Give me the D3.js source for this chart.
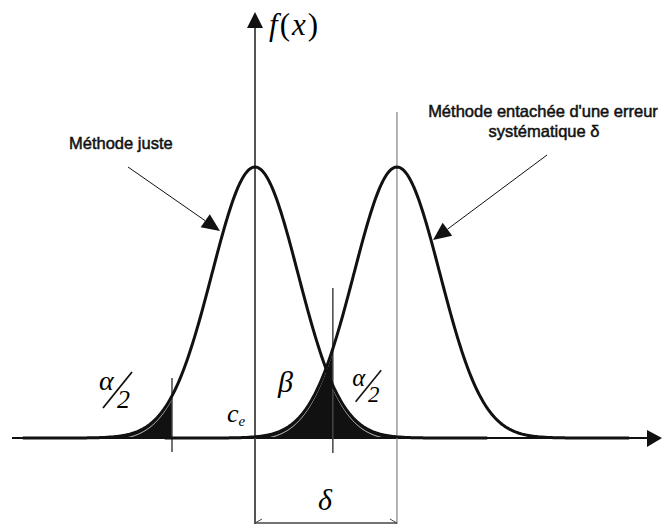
<!DOCTYPE html>
<html>
<head>
<meta charset="utf-8">
<script src="https://cdn.jsdelivr.net/npm/d3@7/dist/d3.min.js"></script>
<style>
  html, body { margin: 0; padding: 0; background: #fff; }
  svg { display: block; }
  .sans { font-family: "Liberation Sans", Arial, sans-serif; }
  .serif { font-family: "Liberation Serif", "Times New Roman", serif; font-style: italic; }
</style>
</head>
<body>
<svg id="chart" width="662" height="526"></svg>
<script>
// Two normal distributions (in units of sigma): the correct method and the
// method biased by a systematic error delta.
const means = [0, 3.3];
const sigma = 1;
const lowerCritical = -1.93;   // left alpha/2 limit of the correct method
const upperCritical = 1.81;    // c_e, right alpha/2 limit
const methodLabels = ["Méthode juste", "Méthode entachée d'une erreur", "systématique δ"];

const width = 662, height = 526;
const svg = d3.select("#chart");

const x = d3.scaleLinear().domain([-5.65, 9.44]).range([12, 661]);
const y = d3.scaleLinear().domain([0, 1]).range([438, 167]);

// density scaled so that the peak equals 1
const density = (u, m) => Math.exp(-((u - m) ** 2) / (2 * sigma * sigma));
const samples = (a, b) => d3.range(a, b + 1e-9, (b - a) / 300);

const line = m => d3.line().x(u => x(u)).y(u => y(density(u, m)));
const area = m => d3.area().x(u => x(u)).y0(y(0)).y1(u => y(density(u, m)));

// ---- shaded tails ----
const regions = [
  { m: means[0], a: means[0] - 5, b: lowerCritical },   // alpha/2 (left)
  { m: means[1], a: means[1] - 5, b: upperCritical },   // beta
  { m: means[0], a: upperCritical, b: means[0] + 5 }    // alpha/2 (right)
];
regions.forEach(r => {
  svg.append("path").datum(samples(r.a, r.b)).attr("d", area(r.m))
    .attr("fill", "#111");
});
// thin light trace inside the filled tails
regions.forEach(r => {
  const pts = samples(r.a, r.b).filter(u => density(u, r.m) > 0.012);
  svg.append("path").datum(pts)
    .attr("d", d3.line().x(u => x(u)).y(u => y(density(u, r.m)) + 3))
    .attr("fill", "none").attr("stroke", "#fff").attr("stroke-width", 1).attr("opacity", 0.85);
});

// ---- horizontal axis ----
svg.append("line").attr("x1", 12).attr("x2", 648).attr("y1", y(0)).attr("y2", y(0))
  .attr("stroke", "#111").attr("stroke-width", 2.2);
svg.append("path").attr("d", `M647,430 L662,${y(0)} L647,447 Z`).attr("fill", "#111");

// ---- vertical axis f(x) ----
svg.append("line").attr("x1", x(means[0])).attr("x2", x(means[0])).attr("y1", 26).attr("y2", 524)
  .attr("stroke", "#555").attr("stroke-width", 2);
svg.append("path").attr("d", `M${x(means[0])},12 L${x(means[0]) - 8},28 L${x(means[0]) + 8},28 Z`).attr("fill", "#111");

// mean of the biased method
svg.append("line").attr("x1", x(means[1])).attr("x2", x(means[1])).attr("y1", 112).attr("y2", 524)
  .attr("stroke", "#9a9a9a").attr("stroke-width", 1.5);

// critical limits
svg.append("line").attr("x1", x(lowerCritical)).attr("x2", x(lowerCritical)).attr("y1", 378).attr("y2", 452)
  .attr("stroke", "#444").attr("stroke-width", 1.5);
svg.append("line").attr("x1", x(upperCritical)).attr("x2", x(upperCritical)).attr("y1", 288).attr("y2", 453)
  .attr("stroke", "#444").attr("stroke-width", 1.5);

// ---- density curves ----
means.forEach(m => {
  svg.append("path").datum(samples(m - 5.4, m + 5.4)).attr("d", line(m))
    .attr("fill", "none").attr("stroke", "#111").attr("stroke-width", 3)
    .attr("stroke-linejoin", "round");
});

// ---- delta bracket ----
const by = 523;
svg.append("line").attr("x1", x(means[0])).attr("x2", x(means[1])).attr("y1", by).attr("y2", by)
  .attr("stroke", "#444").attr("stroke-width", 1.5);
svg.append("path").attr("d", `M${x(means[0]) + 7},${by - 4} L${x(means[0])},${by} M${x(means[1]) - 7},${by - 4} L${x(means[1])},${by}`)
  .attr("stroke", "#444").attr("fill", "none").attr("stroke-width", 1);
svg.append("text").attr("class", "serif").attr("x", (x(means[0]) + x(means[1])) / 2 - 1).attr("y", 510)
  .attr("text-anchor", "middle").attr("font-size", 30).text("δ");

// ---- f(x) label ----
const fx = svg.append("text").attr("class", "serif").attr("x", 269).attr("y", 35)
  .attr("font-size", 31).attr("letter-spacing", 2);
fx.append("tspan").text("f");
fx.append("tspan").attr("font-style", "normal").text("(");
fx.append("tspan").text("x");
fx.append("tspan").attr("font-style", "normal").text(")");

// ---- alpha/2 fractions ----
function alphaHalf(ox, oy, s) {
  const g = svg.append("g").attr("transform", `translate(${ox},${oy}) scale(${s})`);
  g.append("text").attr("class", "serif").attr("x", -1).attr("y", 0).attr("font-size", 28).text("α");
  g.append("line").attr("x1", 3).attr("y1", 18).attr("x2", 32).attr("y2", -18)
    .attr("stroke", "#111").attr("stroke-width", 1.8);
  g.append("text").attr("class", "serif").attr("font-style", "normal").attr("x", 17).attr("y", 18)
    .attr("font-size", 26).text("2");
}
alphaHalf(100, 390, 1);
alphaHalf(353, 386, 0.88);

// beta and c_e
svg.append("text").attr("class", "serif").attr("x", 278).attr("y", 392).attr("font-size", 30).text("β");
const ce = svg.append("text").attr("class", "serif").attr("x", 227).attr("y", 422).attr("font-size", 26);
ce.append("tspan").text("c");
ce.append("tspan").attr("font-size", 15).attr("dy", 4).text("e");

// ---- method annotations ----
const labelStyle = t => t.attr("class", "sans").attr("font-size", 16.5)
  .attr("stroke", "#111").attr("stroke-width", 0.5).attr("fill", "#111");
svg.append("text").call(labelStyle).attr("x", 69).attr("y", 149).text(methodLabels[0]);
svg.append("text").call(labelStyle).attr("x", 543).attr("y", 117).attr("text-anchor", "middle").text(methodLabels[1]);
svg.append("text").call(labelStyle).attr("x", 544).attr("y", 137).attr("text-anchor", "middle").text(methodLabels[2]);

function pointer(x0, y0, x1, y1) {
  const ang = Math.atan2(y1 - y0, x1 - x0), L = 18, W = 8;
  const bx = x1 - L * Math.cos(ang), byy = y1 - L * Math.sin(ang);
  svg.append("line").attr("x1", x0).attr("y1", y0).attr("x2", bx).attr("y2", byy)
    .attr("stroke", "#111").attr("stroke-width", 1);
  const px = -Math.sin(ang) * W, py = Math.cos(ang) * W;
  svg.append("path").attr("d", `M${x1},${y1} L${bx + px},${byy + py} L${bx - px},${byy - py} Z`).attr("fill", "#111");
}
pointer(128, 167, 220, 231);
pointer(547, 155, 433, 240);
</script>
</body>
</html>
